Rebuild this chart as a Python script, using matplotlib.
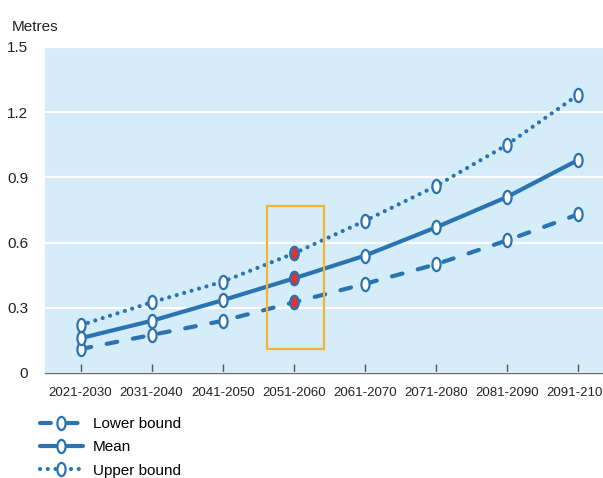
import numpy as np
import matplotlib
matplotlib.use("Agg")
import matplotlib.pyplot as plt
from matplotlib.path import Path
from matplotlib.patches import Rectangle

plt.rcParams['font.family'] = ['Liberation Sans', 'DejaVu Sans']

decades = ["2021-2030", "2031-2040", "2041-2050", "2051-2060",
           "2061-2070", "2071-2080", "2081-2090", "2091-2100"]
lower = [0.11, 0.175, 0.24, 0.325, 0.41, 0.50, 0.61, 0.73]
mean = [0.16, 0.24, 0.335, 0.435, 0.54, 0.67, 0.81, 0.98]
upper = [0.22, 0.325, 0.42, 0.55, 0.70, 0.86, 1.05, 1.28]
highlight = 3  # 2051-2060

blue = "#2b73b1"
red = "#e8302a"
bg = "#d5ecf9"
orange = "#f2b632"

# tall oval marker
circ = Path.unit_circle()
oval = Path(circ.vertices * np.array([0.62, 1.0]), circ.codes)

fig = plt.figure(figsize=(6.03, 4.78), dpi=100)
ax = fig.add_axes([0.0746, 0.2197, 0.9254, 0.682])
ax.set_facecolor(bg)

x = np.arange(len(decades))
mk = dict(marker=oval, markersize=9.5, markerfacecolor="white",
          markeredgecolor=blue, markeredgewidth=1.6)

l1, = ax.plot(x, lower, color=blue, lw=3, dashes=(2.6, 3.8),
              dash_capstyle="round", label="Lower bound", **mk)
l2, = ax.plot(x, mean, color=blue, lw=3, solid_capstyle="round",
              label="Mean", **mk)
l3, = ax.plot(x, upper, color=blue, lw=3, dashes=(0.01, 1.85),
              dash_capstyle="round", label="Upper bound", **mk)

# red-filled markers for the highlighted decade
for s in (lower, mean, upper):
    ax.plot([x[highlight]], [s[highlight]], linestyle="none", marker=oval,
            markersize=9.5, markerfacecolor=red, markeredgecolor=blue,
            markeredgewidth=1.6, zorder=4)

ax.add_patch(Rectangle((2.63, 0.11), 0.79, 0.658, fill=False,
                       edgecolor=orange, lw=1.6, zorder=5))

ax.set_xlim(-0.5, 7.35)
ax.set_ylim(0, 1.5)
ax.set_yticks([0, 0.3, 0.6, 0.9, 1.2, 1.5])
ax.set_yticklabels(["0", "0.3", "0.6", "0.9", "1.2", "1.5"], fontsize=11)
ax.set_xticks(x)
ax.set_xticklabels(decades, fontsize=9.5)
ax.yaxis.grid(True, color="white", lw=1.6)
ax.set_axisbelow(True)
for side in ("left", "right", "top"):
    ax.spines[side].set_visible(False)
ax.spines["bottom"].set_color("#6e6e6e")
ax.spines["bottom"].set_linewidth(1.0)
ax.tick_params(axis="y", length=0, pad=12, colors="#222222")
ax.tick_params(axis="x", direction="in", length=6.5, width=1,
               color="#555555", pad=10, labelcolor="#222222")

fig.text(0.02, 0.944, "Metres", fontsize=11, va="center", color="#222222")

fig.legend(handles=[l1, l2, l3], loc="upper left",
           bbox_to_anchor=(0.066, 0.127), frameon=False, fontsize=11,
           handlelength=2.8, handletextpad=0.65, labelspacing=0.6,
           borderaxespad=0, borderpad=0)

fig.savefig("out.png", dpi=100)
